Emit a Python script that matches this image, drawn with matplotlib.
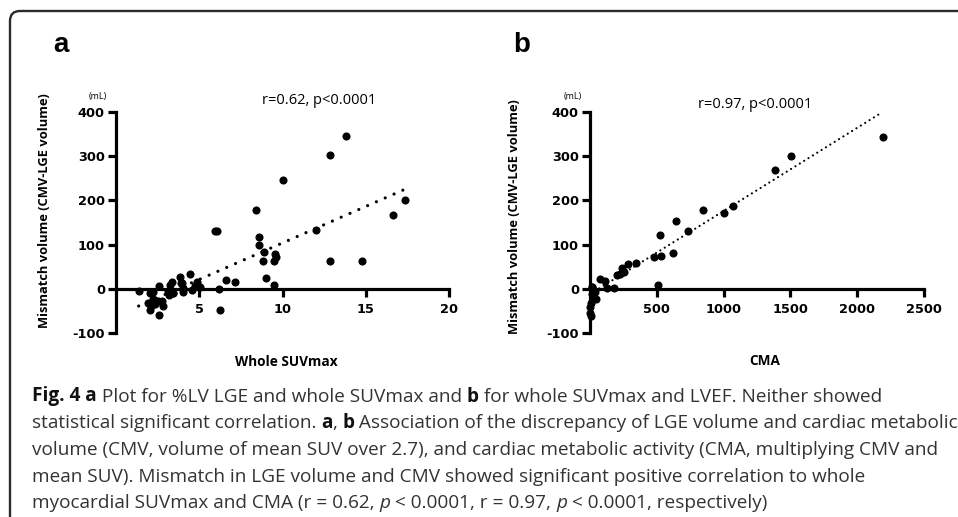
import matplotlib
matplotlib.use("Agg")
import matplotlib.pyplot as plt
from matplotlib.path import Path as MPath
from matplotlib.patches import PathPatch

plt.rcParams["axes.unicode_minus"] = False

W, H = 958, 517

# panel a: whole SUVmax vs mismatch volume
suv_x = [13.84, 12.88, 10.0, 17.36, 16.64, 8.4, 12.0, 5.92, 6.08, 8.6, 8.56, 8.88, 9.56, 9.6,
         8.8, 9.48, 12.88, 14.8, 9.0, 9.48, 6.6, 7.12, 6.16, 6.24, 4.44, 3.84, 3.34, 3.96, 4.88,
         5.04, 4.74, 4.54, 4.0, 3.44, 3.24, 3.14, 3.4, 3.2, 2.6, 1.4, 2.04, 2.2, 1.92, 2.08, 2.04,
         2.52, 2.76, 2.84, 2.56, 2.32, 3.88, 4.0, 2.2]
suv_y = [345, 303, 247, 200, 168, 178, 133, 130, 130, 117, 100, 83, 78, 72,
         64, 63, 63, 63, 24, 8, 21, 15, 0, -47, 34, 26, 16.5, 12, 16.5,
         5, 7, -2, -8, -9, 9, -6, -10, -15, 7, -6, -10, -8, -32, -39, -48,
         -28, -28, -39, -60, -35, 13, 2, -22]
fit_a_x = [1.36, 17.28]
fit_a_y = [-39, 224]

# panel b: CMA vs mismatch volume
cma_x = [2195, 1505, 1385, 1068, 1000, 848, 641, 736, 526, 621, 531, 477, 347, 282, 242, 257, 225,
         200, 75, 112, 511, 125, 182, 12, 13, 25, 37, 25, 45, 8, 3, 3, 6, 15]
cma_y = [343, 301, 269, 187, 171, 179, 154, 131, 121, 82, 75, 72, 59, 57, 48, 37, 33,
         31, 23, 18, 8, 1, 2, 3, 4, -3, -8, -20, -23, -31, -42, -54, -61, -12]
fit_b_x = [70, 2190]
fit_b_y = [1, 400]

y_ticks = [-100, 0, 100, 200, 300, 400]
a_xticks = [5, 10, 15, 20]
b_xticks = [500, 1000, 1500, 2000, 2500]

caption_lines = [
    [("Fig. 4 a", "b"), (" Plot for %LV LGE and whole SUVmax and ", "n"), ("b", "b"),
     (" for whole SUVmax and LVEF. Neither showed", "n")],
    [("statistical significant correlation. ", "n"), ("a", "b"), (", ", "n"), ("b", "b"),
     (" Association of the discrepancy of LGE volume and cardiac metabolic", "n")],
    [("volume (CMV, volume of mean SUV over 2.7), and cardiac metabolic activity (CMA, multiplying CMV and", "n")],
    [("mean SUV). Mismatch in LGE volume and CMV showed significant positive correlation to whole", "n")],
    [("myocardial SUVmax and CMA (r = 0.62, ", "n"), ("p", "i"), (" < 0.0001, r = 0.97, ", "n"),
     ("p", "i"), (" < 0.0001, respectively)", "n")],
]


def fx(px):
    return px / W


def fy(py):
    return 1 - py / H


fig = plt.figure(figsize=(W / 100, H / 100), dpi=100)
fig.patch.set_facecolor("white")

# frame: rounded corner top-left, line across the top and down the left side
r = 10
verts = [(fx(10), fy(H + 2)), (fx(10), fy(11 + r)), (fx(10), fy(11)), (fx(10 + r), fy(11)), (fx(W + 2), fy(11))]
codes = [MPath.MOVETO, MPath.LINETO, MPath.CURVE3, MPath.CURVE3, MPath.LINETO]
fig.add_artist(PathPatch(MPath(verts, codes), transform=fig.transFigure, fill=False,
                         edgecolor="#2a2a2a", linewidth=1.7))


def setup_axes(ax, xlim, xticks):
    ax.set_xlim(*xlim)
    ax.set_ylim(-100, 400)
    for side in ("top", "right"):
        ax.spines[side].set_visible(False)
    ax.spines["bottom"].set_position(("data", 0))
    for side in ("left", "bottom"):
        ax.spines[side].set_linewidth(2.3)
        ax.spines[side].set_capstyle("projecting")
    ax.set_xticks(xticks)
    ax.set_yticks(y_ticks)
    ax.tick_params(axis="both", length=6, width=2.3, direction="out", color="black")
    ax.tick_params(axis="y", pad=2)
    ax.tick_params(axis="x", pad=4)
    for lab in ax.get_xticklabels() + ax.get_yticklabels():
        lab.set_fontfamily("DejaVu Sans")
        lab.set_fontweight("bold")
        lab.set_fontsize(9.3)
    ax.patch.set_alpha(0)


ax_a = fig.add_axes([fx(116), fy(333), 333 / W, 221 / H])
setup_axes(ax_a, (0, 20), a_xticks)
ax_a.scatter(suv_x, suv_y, s=34, color="black", zorder=3, clip_on=False, linewidths=0)
ax_a.plot(fit_a_x, fit_a_y, color="black", linewidth=2.3, linestyle=(0, (0.01, 3.0)),
          dash_capstyle="round")

ax_b = fig.add_axes([fx(590), fy(333), 334 / W, 221 / H])
setup_axes(ax_b, (0, 2500), b_xticks)
ax_b.scatter(cma_x, cma_y, s=34, color="black", zorder=3, clip_on=False, linewidths=0)
ax_b.plot(fit_b_x, fit_b_y, color="black", linewidth=1.6, linestyle=(0, (0.01, 2.3)),
          dash_capstyle="round")

# chart texts
for letter, x0 in (("a", 53), ("b", 513)):
    fig.text(fx(x0), fy(52), letter, fontsize=20, fontweight="bold", family="Liberation Sans",
             ha="left", va="baseline")
for x0 in (98, 573):
    fig.text(fx(x0), fy(97), "(mL)", fontsize=6.5, family="Open Sans", ha="center", va="center")
fig.text(fx(319), fy(101), "r=0.62, p<0.0001", fontsize=10.5, family="Open Sans", ha="center", va="center")
fig.text(fx(755), fy(105), "r=0.97, p<0.0001", fontsize=10.5, family="Open Sans", ha="center", va="center")
for x0, y0 in ((45, 211), (514, 217)):
    fig.text(fx(x0), fy(y0), "Mismatch volume (CMV-LGE volume)", fontsize=9.3, fontweight="bold",
             family="Open Sans", rotation=90, ha="center", va="center")
fig.text(fx(286), fy(362), "Whole SUVmax", fontsize=9.8, fontweight="bold", family="Open Sans",
         ha="center", va="center")
fig.text(fx(765), fy(361), "CMA", fontsize=9.8, fontweight="bold", family="Open Sans",
         ha="center", va="center")

# caption, drawn run by run so bold / italic pieces sit inline
renderer = fig.canvas.get_renderer()
styles = {
    "n": dict(weight="normal", style="normal", color="#333333"),
    "b": dict(weight="bold", style="normal", color="#111111"),
    "i": dict(weight="normal", style="italic", color="#333333"),
}
cap_size = 13.65
baselines = [401.5, 428, 455, 481.5, 508]
for runs, base in zip(caption_lines, baselines):
    x = 32.0
    for txt, key in runs:
        st = styles[key]
        fig.text(fx(x), fy(base), txt, fontsize=cap_size, family="Open Sans", fontweight=st["weight"],
                 fontstyle=st["style"], color=st["color"], ha="left", va="baseline")
        probe = fig.text(0, 0, txt + "|", fontsize=cap_size, family="Open Sans", fontweight=st["weight"],
                         fontstyle=st["style"])
        bar = fig.text(0, 0, "|", fontsize=cap_size, family="Open Sans", fontweight=st["weight"],
                       fontstyle=st["style"])
        x += probe.get_window_extent(renderer).width - bar.get_window_extent(renderer).width
        probe.remove()
        bar.remove()

fig.savefig("out.png", dpi=100)
